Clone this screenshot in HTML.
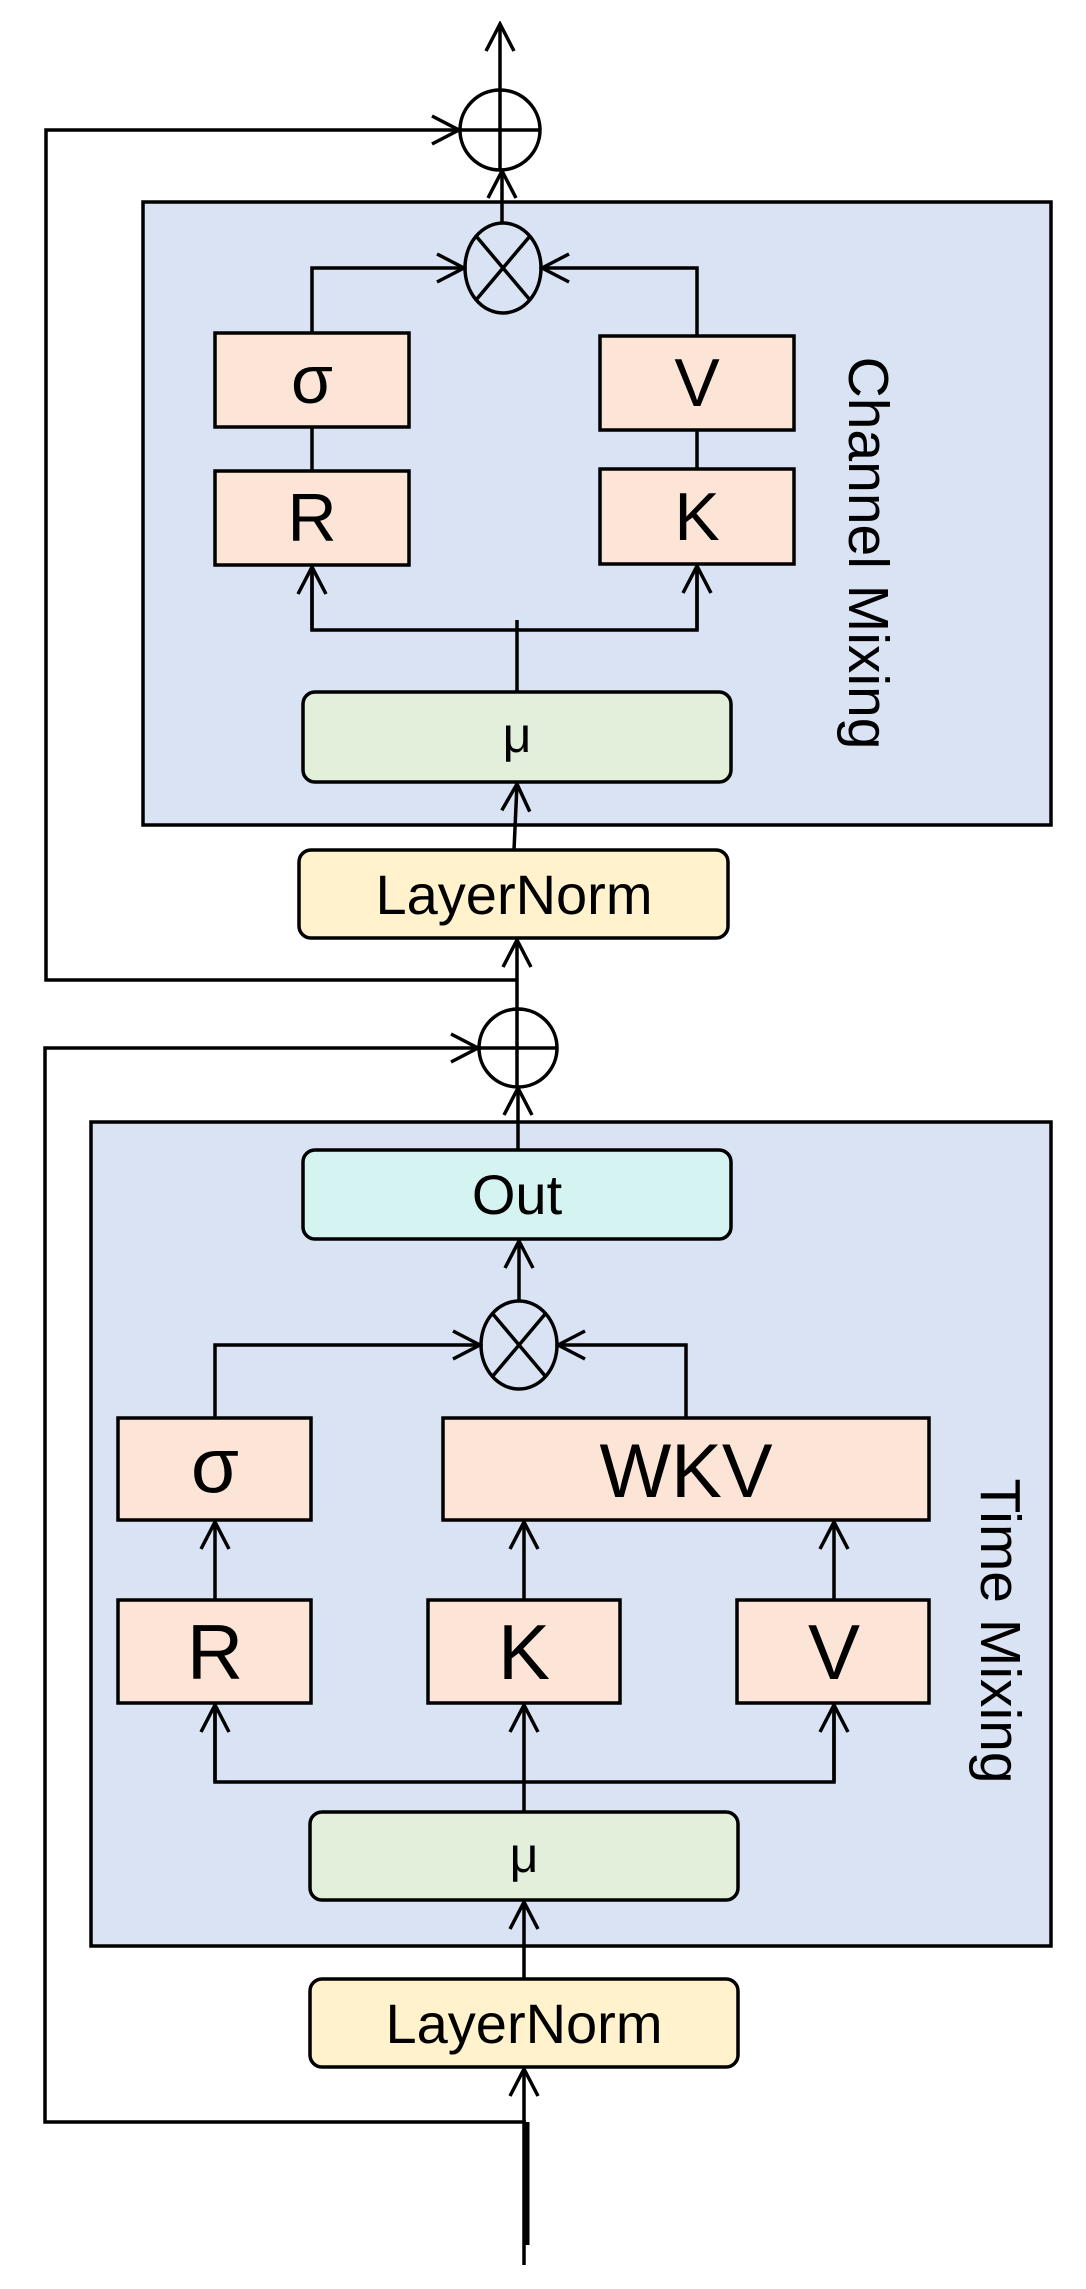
<!DOCTYPE html>
<html><head><meta charset="utf-8"><style>
html,body{margin:0;padding:0;background:#fff;}
svg{display:block;}
text{font-family:"Liberation Sans",sans-serif;fill:#000;}
</style></head><body>
<svg width="1086" height="2289" viewBox="0 0 1086 2289" xmlns="http://www.w3.org/2000/svg">
<defs>
<marker id="a" markerWidth="32" markerHeight="32" refX="29" refY="16" orient="auto" markerUnits="userSpaceOnUse">
<path d="M2,2 L29,16 L2,30" fill="none" stroke="#000" stroke-width="3.5"/>
</marker>
</defs>
<g stroke="#000" stroke-width="3.5" fill="none">
<rect x="143" y="202" width="908" height="623" fill="#dae3f3"/>
<rect x="91" y="1122" width="960" height="824" fill="#dae3f3"/>

<circle cx="500" cy="130" r="40" fill="#fff"/>
<line x1="460" y1="130" x2="540" y2="130"/>
<line x1="500" y1="170" x2="500" y2="24" marker-end="url(#a)"/>
<line x1="502" y1="223" x2="502" y2="171" marker-end="url(#a)"/>
<polyline points="517,980 46,980 46,130 459,130" marker-end="url(#a)"/>

<ellipse cx="503" cy="268" rx="38" ry="45"/>
<line x1="476" y1="236" x2="530" y2="300"/>
<line x1="530" y1="236" x2="476" y2="300"/>
<polyline points="312,333 312,268 464,268" marker-end="url(#a)"/>
<polyline points="697,336 697,268 542,268" marker-end="url(#a)"/>

<rect x="215" y="333" width="194" height="94" fill="#fce4d6"/>
<rect x="215" y="471" width="194" height="94" fill="#fce4d6"/>
<line x1="312" y1="427" x2="312" y2="471"/>
<rect x="600" y="336" width="194" height="94" fill="#fce4d6"/>
<rect x="600" y="469" width="194" height="95" fill="#fce4d6"/>
<line x1="697" y1="430" x2="697" y2="469"/>
<polyline points="312,567 312,630 697,630 697,566"/>
<line x1="312" y1="630" x2="312" y2="567" marker-end="url(#a)"/>
<line x1="697" y1="630" x2="697" y2="566" marker-end="url(#a)"/>
<line x1="517" y1="620" x2="517" y2="692"/>
<rect x="303" y="692" width="428" height="90" rx="12" fill="#e2efda"/>
<line x1="514" y1="850" x2="517" y2="784" marker-end="url(#a)"/>
<rect x="299" y="850" width="429" height="88" rx="12" fill="#fff2cc"/>

<circle cx="518" cy="1048" r="39" fill="#fff"/>
<line x1="479" y1="1048" x2="557" y2="1048"/>
<line x1="517" y1="1088" x2="517" y2="940" marker-end="url(#a)"/>
<line x1="518" y1="1150" x2="518" y2="1088" marker-end="url(#a)"/>
<polyline points="526,2122 45,2122 45,1048 478,1048" marker-end="url(#a)"/>

<rect x="303" y="1150" width="428" height="89" rx="12" fill="#d5f3f1"/>
<line x1="519" y1="1300" x2="519" y2="1241" marker-end="url(#a)"/>
<ellipse cx="519" cy="1345" rx="38" ry="44"/>
<line x1="492" y1="1313" x2="546" y2="1377"/>
<line x1="546" y1="1313" x2="492" y2="1377"/>
<polyline points="215,1418 215,1345 480,1345" marker-end="url(#a)"/>
<polyline points="686,1418 686,1345 558,1345" marker-end="url(#a)"/>

<rect x="118" y="1418" width="193" height="102" fill="#fce4d6"/>
<rect x="443" y="1418" width="486" height="102" fill="#fce4d6"/>
<rect x="118" y="1600" width="193" height="103" fill="#fce4d6"/>
<rect x="428" y="1600" width="192" height="103" fill="#fce4d6"/>
<rect x="737" y="1600" width="192" height="103" fill="#fce4d6"/>
<line x1="215" y1="1600" x2="215" y2="1522" marker-end="url(#a)"/>
<line x1="524" y1="1600" x2="524" y2="1522" marker-end="url(#a)"/>
<line x1="834" y1="1600" x2="834" y2="1522" marker-end="url(#a)"/>
<polyline points="215,1705 215,1782 834,1782 834,1705"/>
<line x1="215" y1="1782" x2="215" y2="1705" marker-end="url(#a)"/>
<line x1="834" y1="1782" x2="834" y2="1705" marker-end="url(#a)"/>
<line x1="524" y1="1812" x2="524" y2="1705" marker-end="url(#a)"/>
<rect x="310" y="1812" width="428" height="88" rx="12" fill="#e2efda"/>
<line x1="524" y1="1979" x2="524" y2="1902" marker-end="url(#a)"/>
<rect x="310" y="1979" width="428" height="88" rx="12" fill="#fff2cc"/>
<line x1="524" y1="2265" x2="524" y2="2069" marker-end="url(#a)"/>
<line x1="527" y1="2122" x2="527" y2="2245" stroke-width="5"/>
</g>

<g text-anchor="middle">
<text x="312" y="403" font-size="68">σ</text>
<text x="312" y="541" font-size="68">R</text>
<text x="697" y="406" font-size="68">V</text>
<text x="697" y="540" font-size="68">K</text>
<text x="517" y="752" font-size="50">μ</text>
<text x="514" y="914" font-size="56">LayerNorm</text>
<text x="517" y="1214" font-size="56">Out</text>
<text x="215" y="1492" font-size="78">σ</text>
<text x="686" y="1497" font-size="76">WKV</text>
<text x="215" y="1679" font-size="78">R</text>
<text x="524" y="1679" font-size="78">K</text>
<text x="834" y="1679" font-size="78">V</text>
<text x="524" y="1872" font-size="50">μ</text>
<text x="524" y="2043" font-size="56">LayerNorm</text>
<text x="0" y="0" font-size="57" transform="translate(849,553) rotate(90)">Channel Mixing</text>
<text x="0" y="0" font-size="57" transform="translate(981,1631) rotate(90)">Time Mixing</text>
</g>
</svg>
</body></html>
